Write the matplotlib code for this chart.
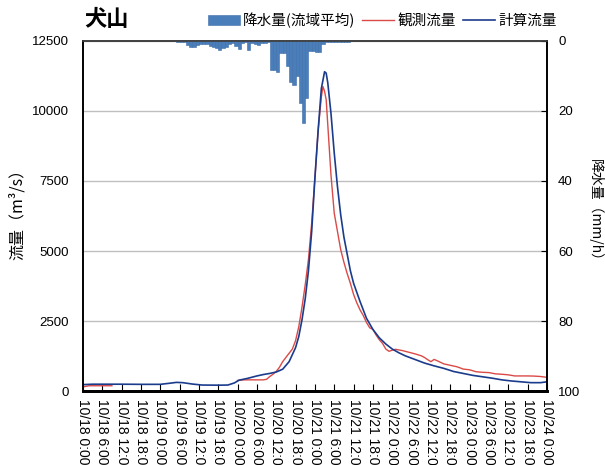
import numpy as np
import matplotlib
matplotlib.use("Agg")
import matplotlib.pyplot as plt

plt.rcParams['font.family'] = ['Liberation Sans', 'Noto Sans CJK JP', 'DejaVu Sans']

# hours counted from 10/18 0:00
days = ['10/18', '10/19', '10/20', '10/21', '10/22', '10/23', '10/24']
clock = ['0:00', '6:00', '12:00', '18:00']
tick_labels = [d + ' ' + c for d in days[:-1] for c in clock] + [days[-1] + ' 0:00']

# hourly basin-average rainfall (mm/h), first bar at hour 29
rain_start = 29
rain = [0.2, 0.2, 0.4, 1.2, 1.6, 1.6, 1.2, 1.0, 1.0, 1.0,
        1.5, 1.8, 2.0, 2.5, 2.0, 1.8, 0.8, 0.5, 1.5, 2.2,
        0.5, 0.3, 2.5, 0.5, 0.8, 1.2, 0.5, 0.5, 0.4, 8.2,
        8.2, 8.9, 3.4, 3.4, 7.2, 11.8, 12.5, 10.0, 17.8, 23.4,
        16.3, 3.0, 3.0, 3.2, 3.2, 0.9, 0.3, 0.2, 0.2, 0.3,
        0.2, 0.2, 0.2, 0.2, 0.1]

# observed discharge (m3/s), gap where no record
obs_hours = [0, 1, 2, 4, 6, 8, 9, 10,
             48, 50, 52, 54, 56, 57, 58, 59, 60, 61, 62, 63, 64, 65, 66, 67,
             68, 69, 70, 71, 72, 73, 74, 74.5, 75, 75.5, 76, 77, 78, 79, 80,
             81, 82, 83, 84, 85, 86, 87, 88, 89, 90, 91, 92, 93, 94, 95, 96,
             97, 99, 101, 103, 105, 106, 107, 108, 109, 110, 112, 114, 116,
             117, 118, 120, 122, 124, 126, 128, 130, 132, 134, 136, 138, 140,
             142, 144]
obs_flow = [150, 170, 190, 190, 190, 190, 190, None,
            380, 400, 400, 400, 400, 420, 520, 600, 700, 850, 1050, 1200, 1350, 1500, 1800, 2300,
            3000, 3800, 4700, 6000, 7600, 9300, 10500, 10870, 10700, 10400, 9500, 7700, 6350, 5700, 5050,
            4600, 4200, 3850, 3450, 3150, 2900, 2700, 2450, 2260, 2200, 2000, 1830, 1700, 1500, 1420, 1460,
            1490, 1450, 1390, 1330, 1260, 1200, 1120, 1050, 1130, 1080, 970, 920, 870,
            830, 785, 760, 690, 670, 660, 615, 600, 580, 540, 540, 540, 535,
            520, 490]

# computed discharge (m3/s)
calc_hours = [0, 3, 6, 12, 18, 24, 27, 29, 31, 34, 37, 42, 45, 47, 48.5, 51, 54,
              56, 58, 60, 62, 64, 66, 67, 68, 69, 70, 71, 72, 73, 74, 75, 75.5,
              76, 77, 78, 79, 80, 81, 82, 83, 84, 86, 88, 90, 92, 94, 96, 98,
              100, 103, 106, 109, 112, 115, 118, 121, 124, 127, 130, 133, 136,
              139, 142, 144]
calc_flow = [230, 245, 245, 245, 240, 240, 280, 310, 300, 250, 215, 210, 215, 290, 390, 450, 540,
             590, 630, 680, 780, 1050, 1550, 1950, 2550, 3300, 4300, 5700, 7600, 9300, 10800, 11400, 11350,
             11000, 9900, 8500, 7300, 6300, 5500, 4900, 4300, 3850, 3200, 2600, 2200, 1900, 1680, 1500, 1370,
             1260, 1130, 1000, 900, 810, 700, 630, 560, 510, 460, 400, 360, 330,
             300, 300, 330]

obs = np.array([np.nan if v is None else v for v in obs_flow], dtype=float)
rain_hours = np.arange(rain_start, rain_start + len(rain))

fig = plt.figure(figsize=(6.05, 4.65), dpi=100)
ax = fig.add_axes([0.137, 0.159, 0.767, 0.753])
ax2 = ax.twinx()

ax.yaxis.grid(True, color='#bfbfbf', lw=1)
ax.set_axisbelow(True)
l_obs, = ax.plot(obs_hours, obs, color='#d94a48', lw=1.0, label='観測流量')
l_calc, = ax.plot(calc_hours, calc_flow, color='#1b3c8c', lw=1.2, label='計算流量')
ax.set_xlim(0, 144)
ax.set_ylim(0, 12500)
ax.set_yticks(np.arange(0, 12501, 2500))
ax.set_xticks(np.arange(0, 145, 6))
ax.set_xticklabels(tick_labels, rotation=-90, va='top', ha='center', fontsize=10)
ax.tick_params(axis='x', direction='in', length=5, pad=6)
ax.tick_params(axis='y', direction='in', length=0, labelsize=9.5, pad=10)

bars = ax2.bar(rain_hours, rain, width=1, align='edge', color='#4a7ebb',
               edgecolor='#3d6ca8', lw=0.4, label='降水量(流域平均)')
ax2.set_ylim(100, 0)
ax2.set_yticks(np.arange(0, 101, 20))
ax2.tick_params(axis='y', direction='in', length=4, labelsize=9.5, pad=8)

for a in (ax, ax2):
    for s in a.spines.values():
        s.set_color('black')
        s.set_linewidth(1.2)
    a.spines['bottom'].set_linewidth(2)
    a.spines['top'].set_color('#404040')

fig.text(0.140, 0.957, '犬山', fontsize=16, fontweight='bold',
         family=['Noto Sans CJK JP', 'DejaVu Sans'], va='center', ha='left')
fig.text(0.028, 0.548, '流量（m³/s）', rotation=90, fontsize=11.5,
         family=['Noto Sans CJK JP', 'DejaVu Sans'], va='center', ha='center')
fig.text(0.984, 0.54, '降水量（mm/h）', rotation=-90, fontsize=10,
         family=['Noto Sans CJK JP', 'DejaVu Sans'], va='center', ha='center')

fig.legend(handles=[bars, l_obs, l_calc], ncol=3, frameon=False,
           loc='center right', bbox_to_anchor=(0.92, 0.957),
           prop={'family': ['Noto Sans CJK JP', 'DejaVu Sans'], 'size': 10.5},
           handlelength=2.2, handletextpad=0.2, columnspacing=0.5,
           borderpad=0, borderaxespad=0)

fig.savefig('out.png', dpi=100)
